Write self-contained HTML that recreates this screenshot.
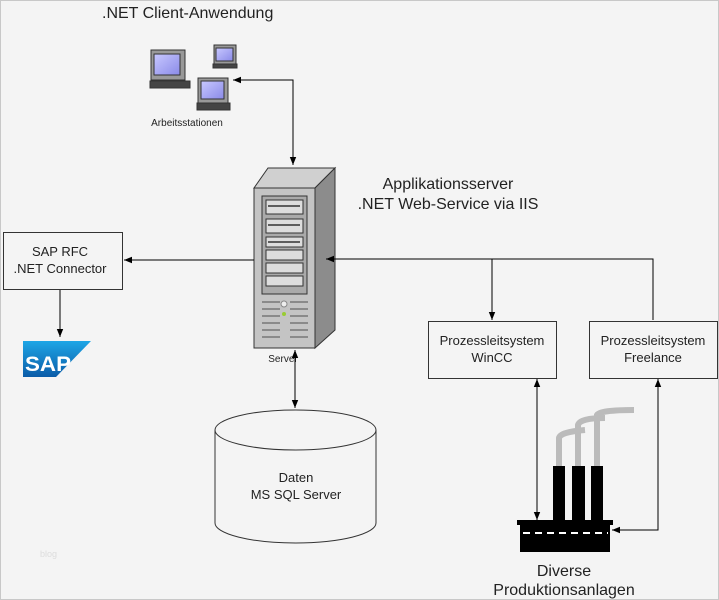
<!DOCTYPE html>
<html><head><meta charset="utf-8"><style>
html,body{margin:0;padding:0;background:#f4f4f4}
svg{display:block}
text{font-family:"Liberation Sans",sans-serif;fill:#222}
</style></head><body>
<svg width="719" height="600" viewBox="0 0 719 600" xmlns="http://www.w3.org/2000/svg">
<defs>
<marker id="a" viewBox="0 0 10 10" refX="10" refY="5" markerWidth="8" markerHeight="8" orient="auto-start-reverse"><path d="M0,1 L10,5 L0,9 z" fill="#000"/></marker>
<linearGradient id="sap" x1="0" y1="0" x2="0" y2="1"><stop offset="0" stop-color="#1ea6e6"/><stop offset="1" stop-color="#0b5ca8"/></linearGradient>
<linearGradient id="mon" x1="0" y1="0" x2="1" y2="1"><stop offset="0" stop-color="#c8c8ff"/><stop offset="1" stop-color="#8a8ae8"/></linearGradient>
</defs>
<rect x="0.5" y="0.5" width="718" height="599" fill="#f4f4f4" stroke="#c8c8c8"/>
<text x="102" y="18" font-size="16">.NET Client-Anwendung</text>

<!-- workstations -->
<g stroke="#333" stroke-width="1">
<rect x="151" y="50" width="34" height="30" fill="#999"/><rect x="154" y="54" width="26" height="21" fill="url(#mon)"/><rect x="150" y="81" width="40" height="7" fill="#444"/>
<rect x="214" y="45" width="22" height="19" fill="#999"/><rect x="216" y="48" width="17" height="13" fill="url(#mon)"/><rect x="213" y="64" width="24" height="4" fill="#444"/>
<rect x="198" y="78" width="30" height="25" fill="#999"/><rect x="201" y="81" width="23" height="18" fill="url(#mon)"/><rect x="197" y="103" width="33" height="7" fill="#444"/>
</g>
<text x="187" y="126" font-size="10" text-anchor="middle">Arbeitsstationen</text>

<!-- server -->
<g stroke="#333" stroke-width="1">
<polygon points="254,188 268,168 335,168 315,188" fill="#d0d0d0"/>
<polygon points="315,188 335,168 335,330 315,348" fill="#8c8c8c"/>
<rect x="254" y="188" width="61" height="160" fill="#c4c4c4"/>
<rect x="262" y="196" width="45" height="98" fill="#aaa"/>
<rect x="266" y="200" width="37" height="14" fill="#ddd"/>
<rect x="266" y="219" width="37" height="14" fill="#ddd"/>
<rect x="266" y="237" width="37" height="10" fill="#ddd"/>
<rect x="266" y="250" width="37" height="10" fill="#ddd"/>
<rect x="266" y="263" width="37" height="10" fill="#ddd"/>
<rect x="266" y="276" width="37" height="10" fill="#ddd"/>
</g>
<g stroke="#333" stroke-width="1.5">
<line x1="268" y1="206" x2="300" y2="206"/><line x1="268" y1="225" x2="300" y2="225"/><line x1="268" y1="242" x2="300" y2="242"/>
</g>
<g stroke="#777" stroke-width="1.5">
<line x1="262" y1="302" x2="280" y2="302"/><line x1="290" y1="302" x2="308" y2="302"/>
<line x1="262" y1="309" x2="280" y2="309"/><line x1="290" y1="309" x2="308" y2="309"/>
<line x1="262" y1="316" x2="280" y2="316"/><line x1="290" y1="316" x2="308" y2="316"/>
<line x1="262" y1="323" x2="280" y2="323"/><line x1="290" y1="323" x2="308" y2="323"/>
<line x1="262" y1="330" x2="280" y2="330"/><line x1="290" y1="330" x2="308" y2="330"/>
<line x1="262" y1="337" x2="280" y2="337"/><line x1="290" y1="337" x2="308" y2="337"/>
</g>
<circle cx="284" cy="304" r="3" fill="#eee" stroke="#888"/><circle cx="284" cy="314" r="2" fill="#9c3"/>
<text x="283" y="362" font-size="10" text-anchor="middle">Server</text>

<g stroke="#000" stroke-width="1" fill="none">
<polyline points="293,165 293,80 233,80" marker-start="url(#a)" marker-end="url(#a)"/>
<line x1="254" y1="260" x2="124" y2="260" marker-end="url(#a)"/>
<line x1="60" y1="290" x2="60" y2="337" marker-end="url(#a)"/>
<polyline points="653,320 653,259 326,259" marker-end="url(#a)"/>
<line x1="492" y1="259" x2="492" y2="320" marker-end="url(#a)"/>
<line x1="295" y1="350" x2="295" y2="408" marker-start="url(#a)" marker-end="url(#a)"/>
<line x1="537" y1="379" x2="537" y2="520" marker-start="url(#a)" marker-end="url(#a)"/>
<polyline points="658,379 658,530 612,530" marker-start="url(#a)" marker-end="url(#a)"/>
</g>

<text x="448" y="189" font-size="16" text-anchor="middle">Applikationsserver</text>
<text x="448" y="209" font-size="16" text-anchor="middle">.NET Web-Service via IIS</text>

<!-- SAP box -->
<rect x="3.5" y="232.5" width="119" height="57" fill="#f4f4f4" stroke="#333"/>
<text x="60" y="256" font-size="13" text-anchor="middle">SAP RFC</text>
<text x="60" y="273" font-size="13" text-anchor="middle">.NET Connector</text>
<polygon points="23,341 91,341 56,377 23,377" fill="url(#sap)"/>
<text x="25" y="371" font-size="21" font-weight="bold" textLength="46" lengthAdjust="spacingAndGlyphs" style="fill:#fff">SAP</text>

<!-- cylinder -->
<path d="M215,430 L215,523 A80.5,20 0 0 0 376,523 L376,430" fill="#f4f4f4" stroke="#333"/>
<ellipse cx="295.5" cy="430" rx="80.5" ry="20" fill="#f4f4f4" stroke="#333"/>
<text x="296" y="482" font-size="13" text-anchor="middle">Daten</text>
<text x="296" y="499" font-size="13" text-anchor="middle">MS SQL Server</text>

<!-- boxes -->
<rect x="428.5" y="321.5" width="128" height="57" fill="#f4f4f4" stroke="#333"/>
<text x="492" y="345" font-size="13" text-anchor="middle">Prozessleitsystem</text>
<text x="492" y="362" font-size="13" text-anchor="middle">WinCC</text>
<rect x="589.5" y="321.5" width="128" height="57" fill="#f4f4f4" stroke="#333"/>
<text x="653" y="345" font-size="13" text-anchor="middle">Prozessleitsystem</text>
<text x="653" y="362" font-size="13" text-anchor="middle">Freelance</text>

<!-- factory -->
<g fill="none" stroke="#bbb" stroke-width="6">
<path d="M559,468 L559,438 Q560,432 585,430"/>
<path d="M578,468 L578,425 Q580,418 605,418"/>
<path d="M597,468 L597,415 Q600,410 634,410"/>
</g>
<rect x="553" y="466" width="12" height="57" fill="#000"/>
<rect x="572" y="466" width="13" height="57" fill="#000"/>
<rect x="591" y="466" width="12" height="57" fill="#000"/>
<rect x="517" y="520" width="96" height="5" fill="#000"/>
<rect x="520" y="524" width="90" height="28" fill="#000"/>
<line x1="523" y1="533" x2="608" y2="533" stroke="#fff" stroke-width="2" stroke-dasharray="7,5"/>
<text x="564" y="576" font-size="16" text-anchor="middle">Diverse</text>
<text x="564" y="595" font-size="16" text-anchor="middle">Produktionsanlagen</text>
<text x="40" y="557" font-size="9" style="fill:#ddd">blog</text>
</svg>
</body></html>
